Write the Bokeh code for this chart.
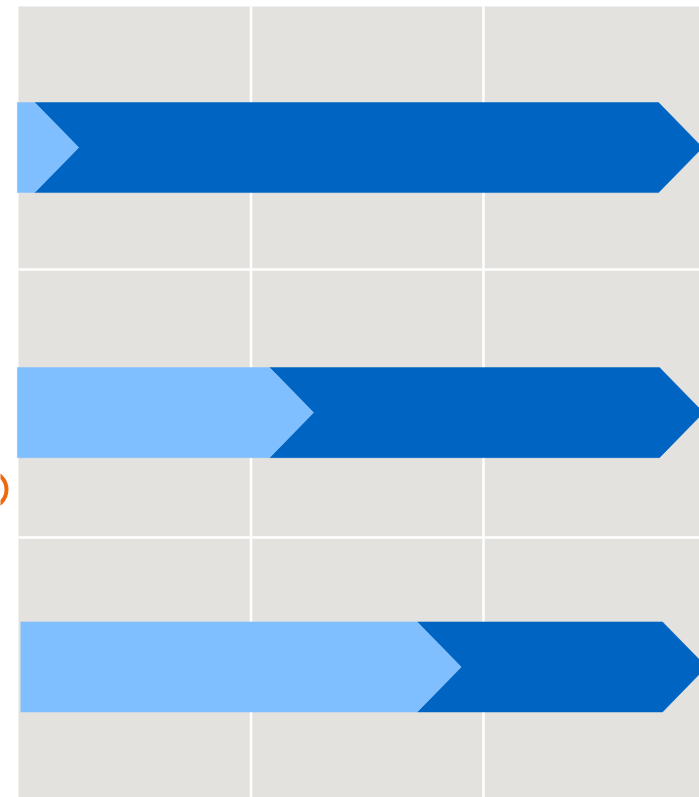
from bokeh.plotting import figure
from bokeh.models import Range1d
from bokeh.embed import file_html
from bokeh.resources import INLINE

# ---- data ----
categories = ["A", "B", "C"]
row_pos = [0.545, 1.534, 2.483]          # category positions (y)
start_vals = [-0.05, -0.05, 0.1]
progress_vals = [0.7, 10.8, 17.15]
end_vals = [27.53, 27.57, 27.7]
x_ticks = [10, 20, 30]
y_ticks = [1, 2]
marker_x = [-1.29]
marker_y = [1.821]

# ---- style ----
GREY = "#E3E2DE"
LIGHT = "#80BFFF"
DARK = "#0064C3"
ORANGE = "#EE6A0E"
HALF = 0.168
TIP = 1.89

p = figure(width=699, height=797, output_backend="svg", toolbar_location=None,
           x_range=Range1d(-0.774, 29.29), y_range=Range1d(2.9701, -0.0037),
           min_border=0, x_axis_location=None, y_axis_location=None)
p.outline_line_color = None
p.background_fill_color = "white"
p.border_fill_color = "white"
p.xgrid.visible = False
p.ygrid.visible = False

# plot area background
p.quad(left=[0], right=[40], top=[0.0187], bottom=[4], fill_color=GREY, line_color=None)

# grid lines
p.segment(x0=x_ticks, x1=x_ticks, y0=[0.0187] * len(x_ticks), y1=[4] * len(x_ticks),
          line_color="white", line_width=2.5)
p.segment(x0=[0] * len(y_ticks), x1=[40] * len(y_ticks), y0=y_ticks, y1=y_ticks,
          line_color="white", line_width=2.5)

# arrow shapes
lxs, lys, dxs, dys = [], [], [], []
for y, s, pr, e in zip(row_pos, start_vals, progress_vals, end_vals):
    lxs.append([s, pr, pr + TIP, pr, s])
    lys.append([y - HALF, y - HALF, y, y + HALF, y + HALF])
    dxs.append([pr, e, e + TIP, e, pr, pr + TIP])
    dys.append([y - HALF, y - HALF, y, y + HALF, y + HALF, y])

p.patches(xs=dxs, ys=dys, fill_color=DARK, line_color=DARK, line_width=0.5)
p.patches(xs=lxs, ys=lys, fill_color=LIGHT, line_color=LIGHT, line_width=0.5)

# orange ring marker (mostly outside the plot, as in the reference)
p.scatter(x=marker_x, y=marker_y, marker="circle", size=36, fill_color=None,
          line_color=ORANGE, line_width=4)

open("out.html", "w").write(file_html(p, INLINE))
